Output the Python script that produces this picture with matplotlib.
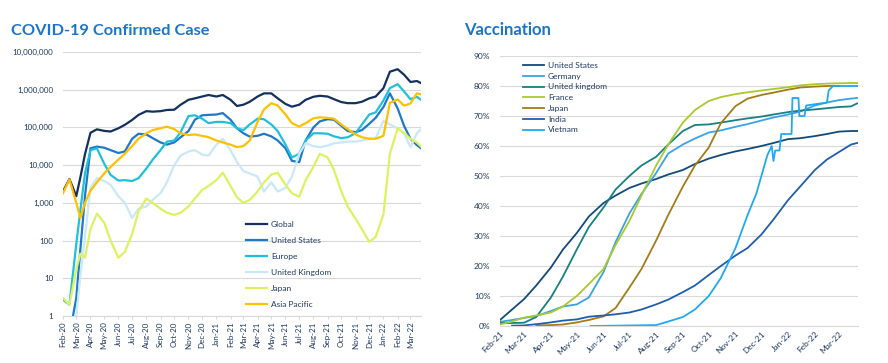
import matplotlib.pyplot as plt
import matplotlib.dates as mdates
import matplotlib.ticker as mticker
import numpy as np
import pandas as pd

plt.rcParams['font.family'] = ['Lato', 'DejaVu Sans']

# ---- COVID-19 confirmed cases (daily, log scale) ----
case_dates = [
    '2020-02-01', '2020-02-15', '2020-03-01', '2020-03-10', '2020-03-20', '2020-04-01', '2020-04-15',
    '2020-05-01', '2020-05-15', '2020-06-01', '2020-06-15', '2020-07-01', '2020-07-15', '2020-08-01', '2020-08-15',
    '2020-09-01', '2020-09-15', '2020-10-01', '2020-10-15', '2020-11-01', '2020-11-15', '2020-12-01', '2020-12-15',
    '2021-01-01', '2021-01-15', '2021-02-01', '2021-02-15', '2021-03-01', '2021-03-15', '2021-04-01', '2021-04-15',
    '2021-05-01', '2021-05-15', '2021-06-01', '2021-06-15', '2021-07-01', '2021-07-15', '2021-08-01', '2021-08-15',
    '2021-09-01', '2021-09-15', '2021-10-01', '2021-10-15', '2021-11-01', '2021-11-15', '2021-12-01', '2021-12-15',
    '2022-01-01', '2022-01-15', '2022-02-01', '2022-02-15', '2022-03-01', '2022-03-15', '2022-03-24']

global_cases = [
    2000, 4300, 1500, 4800, 19500, 72000, 89000,
    81000, 78000, 95000, 117000, 158000, 215000, 270000, 262000,
    270000, 290000, 295000, 400000, 540000, 590000, 660000, 725000,
    660000, 725000, 540000, 370000, 400000, 480000, 660000, 800000,
    800000, 590000, 420000, 355000, 400000, 540000, 650000, 690000,
    660000, 560000, 470000, 440000, 440000, 480000, 590000, 660000,
    1100000, 3000000, 3500000, 2500000, 1600000, 1700000, 1500000]
us_cases = [
    0.3, 0.3, 3, 60, 1500, 28000, 31000,
    29000, 25000, 21000, 23000, 50000, 68000, 65000, 52000,
    40000, 35000, 40000, 55000, 80000, 160000, 210000, 215000,
    220000, 240000, 160000, 95000, 70000, 57000, 60000, 68000,
    58000, 45000, 28000, 13000, 12000, 45000, 100000, 145000,
    165000, 160000, 110000, 80000, 75000, 85000, 125000, 180000,
    350000, 800000, 320000, 110000, 50000, 34000, 28000]
europe_cases = [
    2.7, 2.0, 80, 650, 6000, 25000, 28000,
    11000, 5500, 3900, 4000, 3800, 4500, 8100, 14000,
    25000, 42000, 45000, 75000, 200000, 210000, 170000, 130000,
    140000, 140000, 130000, 95000, 85000, 120000, 170000, 165000,
    120000, 80000, 35000, 16000, 20000, 45000, 70000, 70000,
    68000, 58000, 52000, 55000, 70000, 120000, 220000, 250000,
    520000, 1100000, 1400000, 900000, 560000, 650000, 540000]
uk_cases = [
    0.3, 0.3, 1, 12, 130, 2500, 4500,
    3800, 3000, 1500, 1000, 400, 700, 800, 1200,
    1800, 3500, 10000, 18000, 23000, 25000, 19000, 18000,
    35000, 50000, 25000, 12000, 7000, 6000, 5000, 2000,
    3500, 2000, 2500, 5000, 20000, 38000, 32000, 30000,
    33000, 38000, 40000, 42000, 42000, 45000, 50000, 52000,
    150000, 120000, 95000, 70000, 30000, 70000, 90000]
japan_cases = [
    3, 2, 17, 45, 35, 200, 520,
    300, 100, 35, 50, 150, 600, 1300, 1000,
    700, 550, 480, 550, 800, 1300, 2200, 2800,
    4000, 6300, 2800, 1400, 1000, 1200, 2000, 3500,
    5600, 6300, 3000, 1800, 1450, 4000, 9100, 20000,
    16000, 7400, 2000, 800, 380, 200, 93, 125,
    500, 20000, 95000, 72000, 50000, 40000, 31000]
apac_cases = [
    1800, 4200, 1000, 400, 1000, 2100, 3500,
    6000, 9000, 14000, 20000, 32000, 50000, 70000, 85000,
    95000, 105000, 90000, 70000, 63000, 65000, 60000, 55000,
    45000, 40000, 35000, 30000, 32000, 45000, 140000, 300000,
    440000, 380000, 220000, 130000, 105000, 130000, 175000, 185000,
    180000, 170000, 120000, 90000, 65000, 55000, 50000, 50000,
    60000, 450000, 550000, 380000, 430000, 800000, 750000]

case_names = ['Global', 'United States', 'Europe', 'United Kingdom', 'Japan', 'Asia Pacific']
case_colors = ['#14305E', '#1F78C8', '#1EC0DC', '#C9E8F8', '#DDF260', '#FFC000']

# ---- Vaccination (fully vaccinated share, %) ----
vac_dates = [
    '2021-02-01', '2021-02-15', '2021-03-01', '2021-03-15', '2021-04-01', '2021-04-15',
    '2021-05-01', '2021-05-15', '2021-06-01', '2021-06-15', '2021-07-01', '2021-07-15',
    '2021-08-01', '2021-08-15', '2021-09-01', '2021-09-15', '2021-10-01', '2021-10-15',
    '2021-11-01', '2021-11-15', '2021-12-01', '2021-12-15', '2022-01-01', '2022-01-15',
    '2022-02-01', '2022-02-15', '2022-03-01', '2022-03-15', '2022-03-22']

us_vac = [2, 5.5, 9, 13.5, 19.5, 25.5, 31, 36.5, 41, 43.5, 46, 47.5, 49, 50.5, 52,
          54, 55.8, 57, 58.2, 59, 60, 61, 62.3, 62.6, 63.3, 64, 64.8, 65, 65]
germany_vac = [1.4, 2, 2.7, 3.3, 5, 6.5, 7.2, 9.5, 18, 28, 37.5, 44, 51, 57.5, 60.5,
               62.5, 64.5, 65.2, 66.4, 67.3, 68.5, 69.5, 70.5, 71.5, 73.5, 74.5, 75.3, 75.8, 76]
uk_vac = [1, 1, 1.1, 3, 9.5, 16.5, 25.5, 33, 39.5, 45.5, 50, 53.5, 56.4, 60.5, 65,
          67, 67.2, 67.8, 68.6, 69.2, 69.8, 70.5, 71.3, 71.8, 72.2, 72.6, 73, 73.2, 74.2]
france_vac = [0.5, 1.5, 2.8, 3.5, 4.5, 6.5, 10, 14, 19, 27, 35, 43.5, 53.5, 60.5, 67.8,
              72, 75, 76.3, 77.3, 77.9, 78.5, 79, 79.6, 80.2, 80.6, 80.8, 80.9, 81, 81]
japan_vac = [None, None, None, 0.2, 0.3, 0.5, 1.2, 2, 3.2, 6, 12.8, 19, 28.5, 37, 46.5,
             53.5, 59.5, 67.6, 73.3, 75.8, 77, 77.8, 78.8, 79.5, 79.8, 80, 80, None, None]
india_vac = [None, 0.1, 0.2, 0.6, 1.2, 1.8, 2.2, 3.1, 3.5, 3.9, 4.5, 5.5, 7.2, 8.8, 11.3,
             13.5, 17, 20, 23.5, 26, 30.5, 35.5, 42, 46.5, 52, 55.5, 58, 60.5, 61]

vietnam_dates = [
    '2021-05-17', '2021-08-01', '2021-08-15', '2021-09-01', '2021-09-15', '2021-10-01',
    '2021-10-15', '2021-11-01', '2021-11-15', '2021-11-25', '2021-12-01', '2021-12-08',
    '2021-12-13', '2021-12-15', '2021-12-17', '2021-12-22', '2021-12-24', '2022-01-05',
    '2022-01-06', '2022-01-13', '2022-01-14', '2022-01-20', '2022-01-22', '2022-02-15',
    '2022-02-17', '2022-02-22', '2022-03-22']
vietnam_vac = [0, 0.3, 1.5, 3, 5.5, 10, 16, 26, 37, 44, 50, 57, 60, 55, 58.5, 58.5, 64, 64,
               76, 76, 70, 70, 73.5, 74.5, 78.5, 80, 80]

vac_names = ['United States', 'Germany', 'United kingdom', 'France', 'Japan', 'India', 'Vietnam']
vac_colors = ['#124A7C', '#3AA3E6', '#178082', '#A9C92E', '#A47B17', '#1F5DAE', '#1FA9F2']

text_col = '#1F3864'
title_col = '#1B75CB'
grid_col = '#D9D9D9'

fig = plt.figure(figsize=(8.88, 3.63), dpi=100)
ax1 = fig.add_axes([63 / 888, 1 - 316 / 363, 358 / 888, 264 / 363])
ax2 = fig.add_axes([500 / 888, 1 - 326 / 363, 358 / 888, 270 / 363])

# left chart
cd = pd.to_datetime(case_dates)
case_series = [global_cases, us_cases, europe_cases, uk_cases, japan_cases, apac_cases]
for name, vals, col in zip(case_names, case_series, case_colors):
    ax1.plot(cd, vals, color=col, lw=1.6, label=name, solid_joinstyle='round')

ax1.set_yscale('log')
ax1.set_ylim(1, 1e7)
ax1.set_yticks([1, 10, 100, 1e3, 1e4, 1e5, 1e6, 1e7])
ax1.yaxis.set_major_formatter(mticker.FuncFormatter(lambda v, p: f'{v:,.0f}'))
ax1.yaxis.set_minor_locator(mticker.NullLocator())
ax1.set_xlim(pd.Timestamp('2020-02-01'), pd.Timestamp('2022-03-24'))
ax1.xaxis.set_major_locator(mdates.MonthLocator())
ax1.xaxis.set_major_formatter(mdates.DateFormatter('%b-%y'))
ax1.tick_params(axis='x', labelsize=5.8, labelcolor=text_col, rotation=90,
                length=2.5, color=grid_col, pad=1.5)
ax1.tick_params(axis='y', labelsize=5.8, labelcolor=text_col, length=0, pad=7)
ax1.grid(axis='y', color=grid_col, lw=0.8)
ax1.set_axisbelow(True)
for s in ['top', 'right', 'left']:
    ax1.spines[s].set_visible(False)
ax1.spines['bottom'].set_color(grid_col)
ax1.spines['bottom'].set_linewidth(0.8)

ax1.legend(loc='upper left', bbox_to_anchor=(246 / 888, 1 - 221 / 363),
           bbox_transform=fig.transFigure, frameon=False, fontsize=6,
           handlelength=2.5, handletextpad=0.5, labelspacing=1.07,
           borderpad=0, borderaxespad=0, labelcolor=text_col)

fig.text(11 / 888, 1 - 35 / 363, 'COVID-19 Confirmed Case', fontsize=11.8,
         fontweight='bold', color=title_col, va='baseline')

# right chart
vd = pd.to_datetime(vac_dates)
vac_series = [us_vac, germany_vac, uk_vac, france_vac, japan_vac, india_vac]
for name, vals, col in zip(vac_names[:6], vac_series, vac_colors[:6]):
    ax2.plot(vd, np.array(vals, dtype=float), color=col, lw=1.3, label=name)
ax2.plot(pd.to_datetime(vietnam_dates), vietnam_vac, color=vac_colors[6], lw=1.3, label=vac_names[6])

ax2.set_ylim(0, 90)
ax2.set_yticks(np.arange(0, 91, 10))
ax2.yaxis.set_major_formatter(mticker.FuncFormatter(lambda v, p: f'{v:.0f}%'))
ax2.set_xlim(pd.Timestamp('2021-02-01'), pd.Timestamp('2022-03-23'))
ax2.xaxis.set_major_locator(mdates.MonthLocator())
ax2.xaxis.set_major_formatter(mdates.DateFormatter('%b-%y'))
ax2.tick_params(axis='x', labelsize=6, labelcolor=text_col, length=0, pad=3)
for lab in ax2.get_xticklabels():
    lab.set_rotation(45)
    lab.set_ha('right')
    lab.set_rotation_mode('anchor')
ax2.tick_params(axis='y', labelsize=6, labelcolor=text_col, length=0, pad=7)
ax2.grid(axis='y', color=grid_col, lw=0.8)
ax2.set_axisbelow(True)
for s in ['top', 'right', 'left']:
    ax2.spines[s].set_visible(False)
ax2.spines['bottom'].set_color(grid_col)
ax2.spines['bottom'].set_linewidth(0.8)

ax2.legend(loc='upper left', bbox_to_anchor=(523 / 888, 1 - 62 / 363),
           bbox_transform=fig.transFigure, frameon=False, fontsize=6,
           handlelength=2.5, handletextpad=0.5, labelspacing=0.45,
           borderpad=0, borderaxespad=0, labelcolor=text_col)

fig.text(464 / 888, 1 - 35 / 363, 'Vaccination', fontsize=12,
         fontweight='bold', color=title_col, va='baseline')

fig.savefig('out.png', dpi=100)
